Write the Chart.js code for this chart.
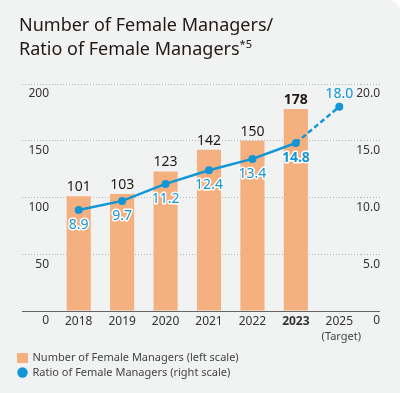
<!DOCTYPE html>
<html>
<head>
<meta charset="utf-8">
<script src="https://cdn.jsdelivr.net/npm/chart.js@4/dist/chart.umd.min.js"></script>
<style>
  html, body { margin: 0; padding: 0; background: #fff; }
  .card {
    position: relative; width: 400px; height: 393px;
    background: #f1f2f2; border-top-right-radius: 12px; overflow: hidden;
  }
  .title {
    position: absolute; left: 19px; top: 12px; margin: 0;
    font: 18px/24px "Noto Sans", sans-serif; color: #231815; font-weight: normal;
  }
  .title sup { font-size: 11px; vertical-align: 7px; line-height: 0; }
  canvas { position: absolute; left: 0; top: 0; }
</style>
</head>
<body>
<div class="card">
  <canvas id="chart" width="400" height="393"></canvas>
  <h1 class="title">Number of Female Managers/<br>Ratio of Female Managers<sup>*5</sup></h1>
</div>
<script>
const years = ['2018', '2019', '2020', '2021', '2022', '2023', '2025']
const managers = [101, 103, 123, 142, 150, 178, null]
const ratio = [8.9, 9.7, 11.2, 12.4, 13.4, 14.8, 18.0]
const leftTicks = [0, 50, 100, 150, 200]
const rightTicks = [0, 5, 10, 15, 20]
const latest = 5   // 2023, shown in bold
const target = 6   // 2025 target

const orange = '#f5b07f'
const blue = '#1296d6'
const ink = '#231815'
const font = '"Noto Sans", sans-serif'

const dotted = '#b3b3b3'
const lineColor = ctx => ctx.tick && ctx.tick.value === 0 ? '#666' : dotted
const lineDash = ctx => ctx.tick && ctx.tick.value === 0 ? [] : [1, 2]

function icon(w, h, paint) {
  const c = document.createElement('canvas')
  c.width = w
  c.height = h
  paint(c.getContext('2d'))
  return c
}
const rectIcon = icon(11, 10, g => { g.fillStyle = orange; g.fillRect(0, 0, 11, 10) })
const dotIcon = icon(11, 11, g => {
  g.fillStyle = blue
  g.beginPath()
  g.arc(5.5, 5.5, 5.2, 0, Math.PI * 2)
  g.fill()
})

const valueLabels = {
  id: 'valueLabels',
  afterDatasetsDraw(chart) {
    const ctx = chart.ctx
    const bars = chart.getDatasetMeta(1).data
    const points = chart.getDatasetMeta(0).data
    ctx.save()
    ctx.textAlign = 'center'
    ctx.textBaseline = 'middle'
    bars.forEach((bar, i) => {
      if (managers[i] == null) return
      ctx.font = (i === latest ? 'bold ' : '') + '14px ' + font
      ctx.fillStyle = ink
      ctx.fillText(managers[i], bar.x, bar.y - 9)
    })
    points.forEach((pt, i) => {
      const txt = ratio[i].toFixed(1)
      ctx.font = (i === latest ? 'bold ' : '') + '14px ' + font
      if (i === target) {
        ctx.fillStyle = blue
        ctx.fillText(txt, pt.x, pt.y - 13)
        return
      }
      const y = pt.y + 15
      ctx.lineWidth = 3
      ctx.lineJoin = 'round'
      ctx.strokeStyle = '#fff'
      ctx.strokeText(txt, pt.x, y)
      ctx.fillStyle = blue
      ctx.fillText(txt, pt.x, y)
    })
    // note under the 2025 tick
    const x = chart.scales.x.getPixelForValue(target)
    ctx.font = '11px ' + font
    ctx.fillStyle = '#444'
    ctx.fillText('(Target)', x + 2, 337)
    ctx.restore()
  }
}

new Chart(document.getElementById('chart'), {
  data: {
    labels: years,
    datasets: [
      {
        type: 'line',
        label: 'Ratio of Female Managers (right scale)',
        data: ratio,
        yAxisID: 'y1',
        borderColor: blue,
        backgroundColor: blue,
        borderWidth: 2.5,
        pointRadius: 4,
        pointBorderWidth: 0,
        pointBackgroundColor: blue,
        segment: {
          borderDash: ctx => ctx.p1DataIndex === target ? [5, 3] : undefined
        }
      },
      {
        type: 'bar',
        label: 'Number of Female Managers (left scale)',
        data: managers,
        yAxisID: 'y',
        backgroundColor: orange,
        categoryPercentage: 1,
        barPercentage: 0.555
      }
    ]
  },
  options: {
    responsive: false,
    animation: false,
    layout: { padding: { left: 14, right: 20, top: 84, bottom: 5 } },
    scales: {
      x: {
        offset: true,
        grid: { display: false, drawTicks: false },
        border: { display: false },
        ticks: {
          color: '#333',
          padding: 3,
          font: ctx => ({ family: font, size: 12, weight: ctx.index === latest ? 'bold' : 'normal' })
        },
        afterFit(scale) { scale.height = 37 }
      },
      y: {
        position: 'left',
        min: 0,
        max: 200,
        afterBuildTicks(scale) { scale.ticks = leftTicks.map(v => ({ value: v })) },
        ticks: { color: '#333', padding: -27, labelOffset: 10, font: { family: font, size: 12 } },
        grid: {
          color: lineColor,
          tickColor: lineColor,
          tickBorderDash: lineDash,
          tickLength: 35
        },
        border: { display: false, dash: lineDash },
        afterFit(scale) { scale.width = 43 }
      },
      y1: {
        position: 'right',
        min: 0,
        max: 20,
        afterBuildTicks(scale) { scale.ticks = rightTicks.map(v => ({ value: v })) },
        ticks: {
          color: '#333',
          mirror: true,
          padding: 19,
          labelOffset: 10,
          font: { family: font, size: 12 },
          callback: v => v === 0 ? '0' : v.toFixed(1)
        },
        grid: {
          drawOnChartArea: false,
          tickColor: lineColor,
          tickBorderDash: lineDash,
          tickLength: 19
        },
        border: { display: false },
        afterFit(scale) { scale.width = 19 }
      }
    },
    plugins: {
      tooltip: { enabled: false },
      legend: {
        position: 'bottom',
        align: 'start',
        labels: {
          usePointStyle: true,
          pointStyleWidth: 9,
          padding: 4,
          color: '#444',
          font: { family: font, size: 11 },
          generateLabels(chart) {
            const items = Chart.defaults.plugins.legend.labels.generateLabels(chart)
            items.sort((a, b) => b.datasetIndex - a.datasetIndex)
            items.forEach(it => { it.pointStyle = it.datasetIndex === 1 ? rectIcon : dotIcon })
            return items
          }
        }
      }
    }
  },
  plugins: [valueLabels]
})
</script>
</body>
</html>
